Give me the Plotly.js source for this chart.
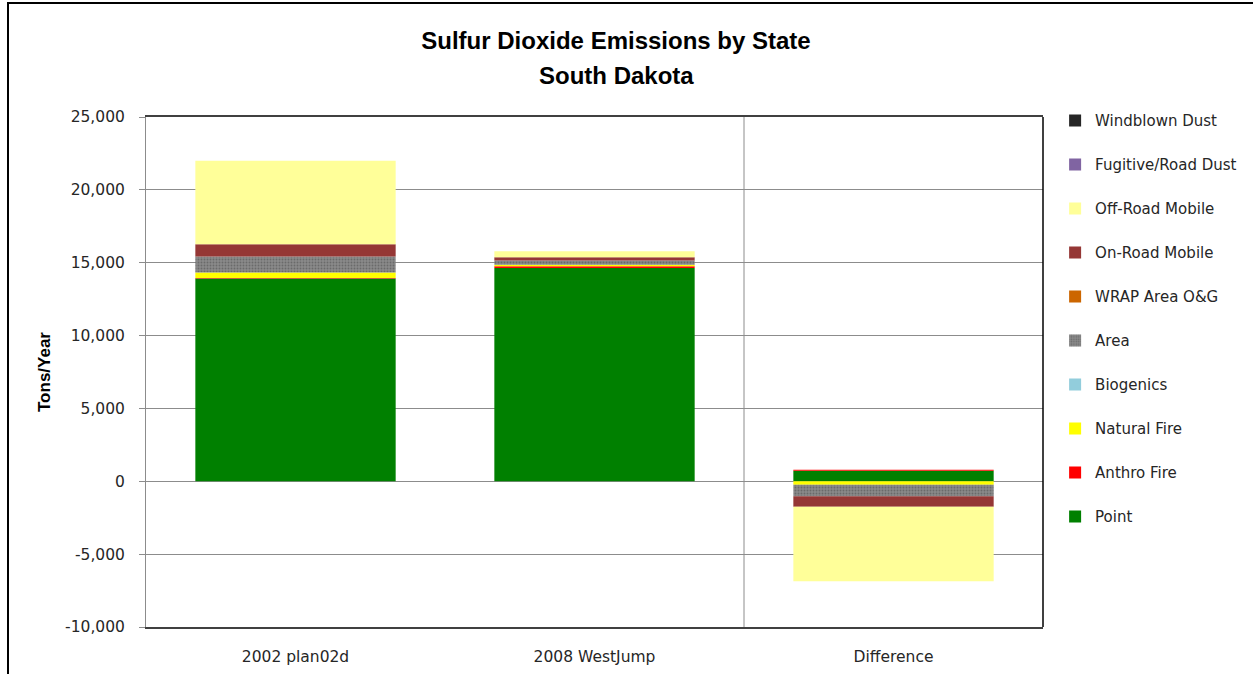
<!DOCTYPE html>
<html>
<head>
<meta charset="utf-8">
<script src="https://cdn.plot.ly/plotly-3.0.1.min.js"></script>
<style>
  html, body { margin: 0; padding: 0; background: #ffffff; }
  #chart { position: absolute; left: 0; top: 0; width: 1253px; height: 674px; }
  #frame { position: absolute; left: 7px; top: 2px; width: 1260px; height: 700px;
           border-top: 2px solid #000; border-left: 2px solid #000; pointer-events: none; }
</style>
</head>
<body>
<div id="chart"></div>
<div id="frame"></div>
<script>
// SO2 emissions (tons/year) by source category
const categories = ['2002 plan02d', '2008 WestJump', 'Difference'];

const point        = [13914, 14645, 730];
const anthroFire   = [40, 110, 70];
const naturalFire  = [380, 100, -240];
const biogenics    = [0, 0, 0];
const area         = [1090, 295, -780];
const wrapAreaOG   = [0, 0, 0];
const onRoadMobile = [850, 225, -725];
const offRoadMobile = [5720, 410, -5120];
const fugitiveDust = [0, 0, 0];
const windblownDust = [0, 0, 0];

const yTickVals = [-10000, -5000, 0, 5000, 10000, 15000, 20000, 25000];
const yTickText = ['-10,000', '-5,000', '0', '5,000', '10,000', '15,000', '20,000', '25,000'];

// stacking order: bottom of the stack first
const series = [
  { name: 'Point',             y: point,         color: '#008000' },
  { name: 'Anthro Fire',       y: anthroFire,    color: '#FF0000' },
  { name: 'Natural Fire',      y: naturalFire,   color: '#FFFF00' },
  { name: 'Biogenics',         y: biogenics,     color: '#92CDDC' },
  { name: 'Area',              y: area,          color: '#808080', pattern: true },
  { name: 'WRAP Area O&G',     y: wrapAreaOG,    color: '#CC6600' },
  { name: 'On-Road Mobile',    y: onRoadMobile,  color: '#953735' },
  { name: 'Off-Road Mobile',   y: offRoadMobile, color: '#FFFF99' },
  { name: 'Fugitive/Road Dust', y: fugitiveDust, color: '#8064A2' },
  { name: 'Windblown Dust',    y: windblownDust, color: '#262626' }
];

const traces = series.map((s, i) => {
  const marker = { color: s.color, line: { width: 0 } };
  if (s.pattern) {
    marker.pattern = { shape: '.', fgcolor: '#6a6a6a', bgcolor: '#8a8a8a', size: 3, solidity: 0.3 };
  }
  return {
    type: 'bar',
    name: s.name,
    x: categories,
    y: s.y,
    marker: marker,
    legendgroup: 'g' + i,
    legendrank: series.length - i,   // top of the stack listed first
    hoverinfo: 'name+y'
  };
});

const textFont = { family: 'DejaVu Sans, Verdana, sans-serif', size: 15.5, color: '#262626' };
const titleFont = { family: 'Liberation Sans, Arial, sans-serif', size: 24, color: '#000000', weight: 'bold' };

const layout = {
  width: 1253,
  height: 674,
  paper_bgcolor: '#ffffff',
  plot_bgcolor: '#ffffff',
  margin: { l: 146, r: 210, t: 117, b: 47, autoexpand: false },
  barmode: 'relative',
  bargap: 0.33,
  showlegend: true,
  title: {
    text: 'Sulfur Dioxide Emissions by State',
    font: titleFont,
    x: 616 / 1253, xref: 'container', xanchor: 'center',
    y: 1 - 41 / 674, yref: 'container', yanchor: 'middle'
  },
  annotations: [{
    text: 'South Dakota',
    xref: 'paper', yref: 'paper',
    x: (616 - 146) / 897, y: 1 + (117 - 75) / 510.6,
    xanchor: 'center', yanchor: 'middle',
    showarrow: false,
    font: titleFont
  }],
  xaxis: {
    type: 'category',
    tickfont: textFont,
    ticklabelstandoff: 14,
    showline: true,
    linecolor: '#404040',
    linewidth: 2,
    mirror: true,
    ticks: '',
    showgrid: false,
    fixedrange: true
  },
  yaxis: {
    range: [-10000, 25000],
    tickvals: yTickVals,
    ticktext: yTickText,
    tickfont: textFont,
    ticklabelstandoff: 11,
    showline: true,
    linecolor: '#8c8c8c',
    linewidth: 1,
    ticks: 'outside',
    ticklen: 6,
    tickcolor: '#8c8c8c',
    showgrid: true,
    gridcolor: '#8c8c8c',
    gridwidth: 1,
    zeroline: false,
    title: {
      text: 'Tons/Year',
      font: { family: 'Liberation Sans, Arial, sans-serif', size: 17, color: '#000000', weight: 'bold' },
      standoff: 10
    },
    fixedrange: true
  },
  shapes: [
    { type: 'line', xref: 'x', yref: 'paper', x0: 1.5, x1: 1.5, y0: 0, y1: 1,
      line: { color: '#8c8c8c', width: 1 } },
    { type: 'line', xref: 'paper', yref: 'paper', x0: 1, x1: 1, y0: 0, y1: 1,
      line: { color: '#000000', width: 1.5 } }
  ],
  legend: {
    x: 1.0135, xanchor: 'left',
    y: 1.025, yanchor: 'top',
    traceorder: 'grouped',
    tracegroupgap: 21.5,
    maxheight: 640,
    font: { family: 'DejaVu Sans, Verdana, sans-serif', size: 15, color: '#262626' },
    bgcolor: 'rgba(0,0,0,0)',
    itemwidth: 30
  }
};

Plotly.newPlot('chart', traces, layout, { displayModeBar: false, staticPlot: true });
</script>
</body>
</html>
